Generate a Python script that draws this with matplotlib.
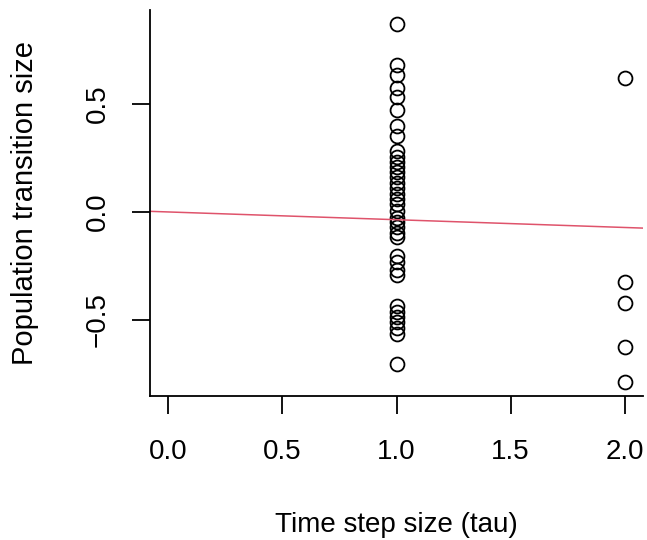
import numpy as np
import matplotlib
matplotlib.use("Agg")
import matplotlib.pyplot as plt

plt.rcParams['font.family'] = ['Liberation Sans', 'DejaVu Sans']

# time step size (tau) for each observed transition
tau_1 = [0.870, 0.681, 0.634, 0.574, 0.532, 0.472, 0.398, 0.352, 0.282, 0.255,
         0.231, 0.208, 0.185, 0.162, 0.134, 0.111, 0.083, 0.060, 0.037, 0.005,
         -0.028, -0.046, -0.069, -0.097, -0.116, -0.204, -0.231, -0.269, -0.292,
         -0.435, -0.463, -0.486, -0.509, -0.537, -0.565, -0.704]
tau_2 = [0.620, -0.324, -0.421, -0.625, -0.787]

tau = [1.0] * len(tau_1) + [2.0] * len(tau_2)
transition = tau_1 + tau_2

# fitted line (through origin)
fit_intercept = 0.0
fit_slope = -0.036

xticks = [0.0, 0.5, 1.0, 1.5, 2.0]
yticks = [-0.5, 0.0, 0.5]

W, H = 647, 540
fig = plt.figure(figsize=(W / 100, H / 100), dpi=100)
ax = fig.add_axes([150 / W, (H - 396) / H, (643 - 150) / W, (396 - 10) / H])

ax.plot(tau, transition, 'o', mfc='none', mec='black', ms=10, mew=1.3)

xlim = (-0.08, 2.08)
x_line = np.array(xlim)
ax.plot(x_line, fit_intercept + fit_slope * x_line, color='#DF536B', lw=1.1)

ax.set_xlim(xlim)
lo, hi = min(transition), max(transition)
pad = 0.04 * (hi - lo)
ax.set_ylim(lo - pad, hi + pad)

ax.spines['top'].set_visible(False)
ax.spines['right'].set_visible(False)
for s in ('left', 'bottom'):
    ax.spines[s].set_linewidth(1.3)

ax.set_xticks(xticks)
ax.set_xticklabels([f"{v:.1f}" for v in xticks])
ax.set_yticks(yticks)
ax.set_yticklabels(["\u22120.5", "0.0", "0.5"], rotation=90, va='center')
ax.tick_params(length=13, width=1.3, labelsize=20, color='black')
ax.tick_params(axis='x', pad=18)
ax.tick_params(axis='y', pad=15)

fig.text(396 / W, 8 / H, "Time step size (tau)", ha='center', va='baseline', fontsize=20)
fig.text(25 / W, (H - 203) / H, "Population transition size", ha='center', va='center',
         rotation=90, fontsize=21)

fig.savefig("out.png", dpi=100)
